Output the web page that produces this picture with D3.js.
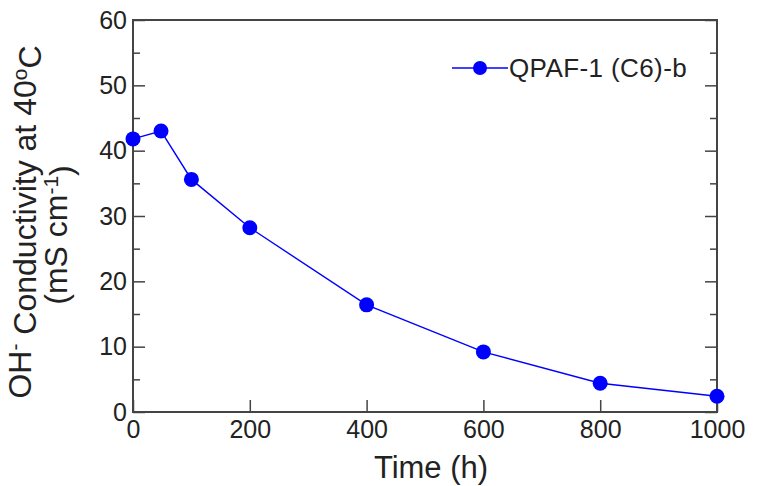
<!DOCTYPE html>
<html>
<head>
<meta charset="utf-8">
<script src="https://cdn.jsdelivr.net/npm/d3@7"></script>
<style>
  body { margin: 0; background: #fff; }
  text { font-family: "Liberation Sans", Arial, sans-serif; fill: #222; }
</style>
</head>
<body>
<div id="chart"></div>
<script>
// data
var timeH = [0, 48, 100, 200, 400, 600, 800, 1000];
var conductivity = [41.8, 43.0, 35.6, 28.2, 16.4, 9.2, 4.4, 2.4];
var seriesName = "QPAF-1 (C6)-b";
var xTicks = [0, 200, 400, 600, 800, 1000];
var yTicks = [0, 10, 20, 30, 40, 50, 60];
var yMinor = [5, 15, 25, 35, 45, 55];

var margin = {top: 20, right: 47, bottom: 74, left: 133},
  width = 764 - margin.left - margin.right,
  height = 486 - margin.top - margin.bottom;

var blue = "#0000ff", axisCol = "#444";

var svg = d3.select("#chart").append("svg")
  .attr("width", 764)
  .attr("height", 486)
  .append("g")
  .attr("transform", "translate(" + margin.left + "," + margin.top + ")");

var x = d3.scaleLinear().domain([0, 1000]).range([0, width]);
var y = d3.scaleLinear().domain([0, 60]).range([height, 0]);

// frame
svg.append("rect")
  .attr("x", 0).attr("y", 0)
  .attr("width", width).attr("height", height)
  .attr("fill", "none")
  .attr("stroke", axisCol)
  .attr("stroke-width", 2);

// x axis (ticks inward)
var xAxis = svg.append("g")
  .attr("transform", "translate(0," + height + ")")
  .call(d3.axisBottom(x).tickValues(xTicks).tickSize(-12).tickPadding(8).tickFormat(d3.format("d")));
xAxis.select(".domain").remove();
xAxis.selectAll("line").attr("stroke", axisCol).attr("stroke-width", 1.5);
xAxis.selectAll("text").style("font-size", "25px").attr("fill", "#222");

// y axis left
var yAxis = svg.append("g")
  .call(d3.axisLeft(y).tickValues(yTicks).tickSize(-12).tickPadding(6));
yAxis.select(".domain").remove();
yAxis.selectAll("line").attr("stroke", axisCol).attr("stroke-width", 1.5);
yAxis.selectAll("text").style("font-size", "25px").attr("fill", "#222");

svg.append("g").call(d3.axisLeft(y).tickValues(yMinor).tickSize(-7).tickFormat(""))
  .call(g => g.select(".domain").remove())
  .selectAll("line").attr("stroke", axisCol).attr("stroke-width", 1.5);

// y axis right ticks
svg.append("g")
  .attr("transform", "translate(" + width + ",0)")
  .call(d3.axisRight(y).tickValues(yTicks).tickSize(-12).tickFormat(""))
  .call(g => g.select(".domain").remove())
  .selectAll("line").attr("stroke", axisCol).attr("stroke-width", 1.5);
svg.append("g")
  .attr("transform", "translate(" + width + ",0)")
  .call(d3.axisRight(y).tickValues(yMinor).tickSize(-7).tickFormat(""))
  .call(g => g.select(".domain").remove())
  .selectAll("line").attr("stroke", axisCol).attr("stroke-width", 1.5);

// series
var pts = timeH.map(function(t, i) { return {t: t, v: conductivity[i]}; });

svg.append("path")
  .datum(pts)
  .attr("fill", "none")
  .attr("stroke", blue)
  .attr("stroke-width", 1.4)
  .attr("d", d3.line().x(function(d) { return x(d.t); }).y(function(d) { return y(d.v); }));

svg.selectAll(".dot")
  .data(pts)
  .enter().append("circle")
  .attr("class", "dot")
  .attr("cx", function(d) { return x(d.t); })
  .attr("cy", function(d) { return y(d.v); })
  .attr("r", 7.5)
  .attr("fill", blue);

// legend
var leg = svg.append("g").attr("transform", "translate(" + (452 - margin.left) + "," + (68 - margin.top) + ")");
leg.append("line").attr("x1", 0).attr("x2", 56).attr("y1", 0).attr("y2", 0)
  .attr("stroke", blue).attr("stroke-width", 1.4);
leg.append("circle").attr("cx", 28).attr("cy", 0).attr("r", 7).attr("fill", blue);
leg.append("text").attr("x", 57).attr("y", 9).style("font-size", "26px").style("letter-spacing", "0.4px").text(seriesName);

// x label
svg.append("text")
  .attr("x", 431 - margin.left)
  .attr("y", 478 - margin.top)
  .style("text-anchor", "middle")
  .style("font-size", "31px")
  .text("Time (h)");

// y label, two lines
var yl = svg.append("text")
  .attr("transform", "translate(" + (31 - margin.left) + "," + (222 - margin.top) + ") rotate(-90)")
  .style("text-anchor", "middle")
  .style("font-size", "32px");
yl.append("tspan").text("OH");
yl.append("tspan").attr("dy", "-0.45em").style("font-size", "21px").text("-");
yl.append("tspan").attr("dy", "0.45em").text(" Conductivity at 40");
yl.append("tspan").attr("dy", "-0.45em").style("font-size", "21px").text("o");
yl.append("tspan").attr("dy", "0.45em").text("C");

var yl2 = svg.append("text")
  .attr("transform", "translate(" + (67 - margin.left) + "," + (235 - margin.top) + ") rotate(-90)")
  .style("text-anchor", "middle")
  .style("font-size", "32px");
yl2.append("tspan").text("(mS cm");
yl2.append("tspan").attr("dy", "-0.45em").style("font-size", "21px").text("-1");
yl2.append("tspan").attr("dy", "0.45em").text(")");
</script>
</body>
</html>
